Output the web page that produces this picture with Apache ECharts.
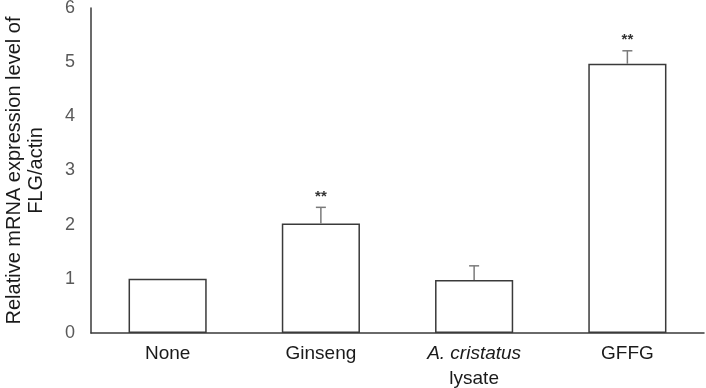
<!DOCTYPE html>
<html>
<head>
<meta charset="utf-8">
<script src="https://cdn.jsdelivr.net/npm/echarts@6/dist/echarts.min.js"></script>
<style>
  html, body { margin: 0; padding: 0; background: #fff; }
  #chart { width: 706px; height: 388px; }
</style>
</head>
<body>
<div id="chart"></div>
<script>
// values
var categories = ['None', 'Ginseng', 'A. cristatus lysate', 'GFFG'];
var means = [1.0, 2.02, 0.98, 4.97];
var errors = [0, 0.30, 0.26, 0.24];
var marks = ['', '**', '', '**'];
var yTicks = [0, 1, 2, 3, 4, 5, 6];

var FONT = '"Liberation Sans", Arial, sans-serif';

var myChart = echarts.init(document.getElementById('chart'));

// error bar data: [category index, mean, sd]
var errData = means.map(function (m, i) { return [i, m, errors[i]]; });

myChart.setOption({
  animation: false,
  textStyle: { fontFamily: FONT },
  grid: { left: 91, right: 2, top: 8, bottom: 55, outerBoundsMode: 'none', containLabel: false },
  xAxis: {
    type: 'category',
    data: categories,
    axisLine: { lineStyle: { color: '#3a3a3a', width: 1.5 } },
    axisTick: { show: false },
    axisLabel: {
      interval: 0,
      margin: 8,
      color: '#1a1a1a',
      fontSize: 19,
      fontFamily: FONT,
      lineHeight: 25,
      formatter: function (v) {
        if (v === 'A. cristatus lysate') return '{i|A. cristatus}\nlysate';
        return v;
      },
      rich: {
        i: { fontStyle: 'italic', fontSize: 19, color: '#1a1a1a', fontFamily: FONT, lineHeight: 25 }
      }
    }
  },
  yAxis: {
    type: 'value',
    min: yTicks[0],
    max: yTicks[yTicks.length - 1],
    interval: 1,
    name: 'Relative mRNA expression level of\nFLG/actin',
    nameLocation: 'middle',
    nameRotate: 90,
    nameGap: 44,
    nameTextStyle: { fontSize: 20, color: '#1a1a1a', lineHeight: 22, fontFamily: FONT },
    axisLine: { show: true, lineStyle: { color: '#3a3a3a', width: 1.5 } },
    axisTick: { show: false },
    splitLine: { show: false },
    axisLabel: { margin: 16, color: '#595959', fontSize: 18, fontFamily: FONT }
  },
  series: [
    {
      type: 'bar',
      data: means,
      barWidth: '51%',
      itemStyle: { color: '#ffffff', borderColor: '#3a3a3a', borderWidth: 1.5 }
    },
    {
      type: 'custom',
      data: errData,
      z: 5,
      renderItem: function (params, api) {
        var x = api.value(0), m = api.value(1), e = api.value(2);
        var p0 = api.coord([x, m]);
        var p1 = api.coord([x, m + e]);
        var children = [];
        var style = { stroke: '#7a7a7a', lineWidth: 1.5 };
        if (e > 0) {
          children.push({ type: 'line', shape: { x1: p0[0], y1: p0[1], x2: p1[0], y2: p1[1] }, style: style });
          children.push({ type: 'line', shape: { x1: p1[0] - 5, y1: p1[1], x2: p1[0] + 5, y2: p1[1] }, style: style });
        }
        var mk = marks[params.dataIndex];
        if (mk) {
          children.push({
            type: 'text',
            style: {
              text: mk, x: p1[0], y: p1[1] - 3,
              align: 'center', verticalAlign: 'bottom',
              fontSize: 15, fontWeight: 'bold', fill: '#333', fontFamily: FONT
            }
          });
        }
        return { type: 'group', children: children };
      }
    }
  ]
});
</script>
</body>
</html>
